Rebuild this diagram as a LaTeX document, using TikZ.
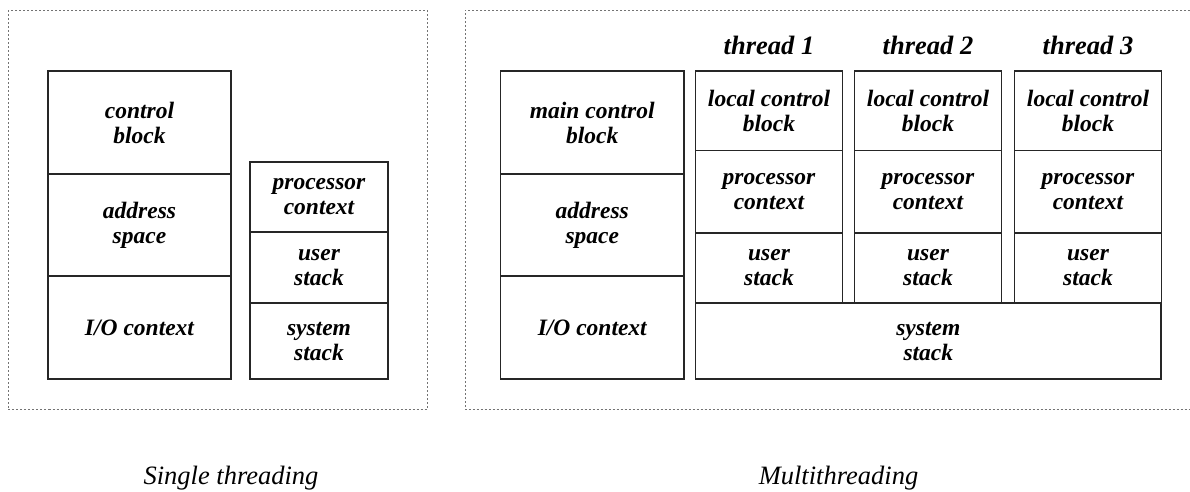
\documentclass[tikz,border=0pt]{standalone}
\usepackage{fontspec}
\setmainfont{Liberation Serif}
\begin{document}
\begin{tikzpicture}[x=1pt,y=-1pt,
  cell/.style={draw=black!85, line width=1.1pt, rectangle, inner sep=0pt,
    align=center, font=\fontsize{23.5}{25}\selectfont\bfseries\itshape},
  panel/.style={draw=black!55, line width=0.8pt, dash pattern=on 2pt off 2pt},
  threadlbl/.style={anchor=base, inner sep=0pt, font=\fontsize{26.5}{28}\selectfont\bfseries\itshape},
  caption/.style={anchor=base, inner sep=0pt, font=\fontsize{26.5}{28}\selectfont\itshape}]
\useasboundingbox (0,0) rectangle (1190,491);

% dashed frames of the two panels
\draw[panel] (8,10) rectangle (427,409.5);
\draw[panel] (1190,10) -- (465,10) -- (465,409.5) -- (1190,409.5);

% ---- single threaded process ----
\node[cell, minimum width=183pt, minimum height=103pt] (cb) at (139.5,122.5) {control\\block};
\node[cell, minimum width=183pt, minimum height=102pt] (as) at (139.5,225) {address\\space};
\node[cell, minimum width=183pt, minimum height=103pt] (io) at (139.5,327.5) {I/O context};

\node[cell, minimum width=138pt, minimum height=70pt] (pc) at (319,197) {processor\\context};
\node[cell, minimum width=138pt, minimum height=71pt, line width=1.4pt] (us) at (319,267.5) {user\\stack};
\node[cell, minimum width=138pt, minimum height=76pt] (ss) at (319,341) {system\\stack};

% ---- multithreaded process ----
\node[cell, minimum width=183.5pt, minimum height=103pt] (mcb) at (592.25,122.5) {main control\\block};
\node[cell, minimum width=183.5pt, minimum height=102pt] (mas) at (592.25,225) {address\\space};
\node[cell, minimum width=183.5pt, minimum height=103pt] (mio) at (592.25,327.5) {I/O context};

\foreach \i/\cx in {1/769,2/928,3/1088}{
  \node[threadlbl] (t\i) at (\cx,54) {thread \i};
  \node[cell, minimum width=147pt, minimum height=79.7pt] (lcb\i) at (\cx,110.85) {local control\\block};
  \node[cell, minimum width=147pt, minimum height=82.3pt] (tpc\i) at (\cx,191.85) {processor\\context};
  \node[cell, minimum width=147pt, minimum height=70pt] (tus\i) at (\cx,268) {user\\stack};
}
\node[cell, minimum width=465.4pt, minimum height=76pt] (mss) at (928.3,341) {system\\stack};

% captions
\node[caption] (cap1) at (231,484) {Single threading};
\node[caption] (cap2) at (838.5,484) {Multithreading};
\end{tikzpicture}
\end{document}
